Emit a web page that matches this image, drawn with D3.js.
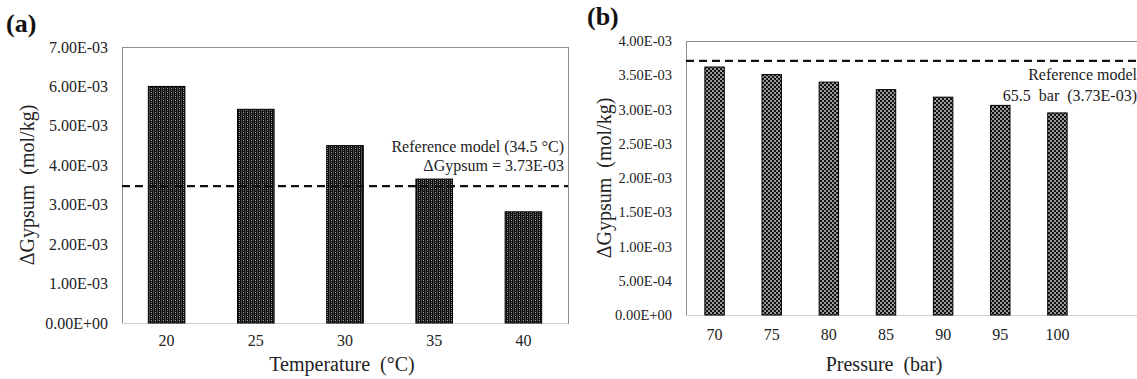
<!DOCTYPE html>
<html>
<head>
<meta charset="utf-8">
<script src="https://cdn.jsdelivr.net/npm/d3@7"></script>
<style>
  body { margin: 0; background: #fff; }
  svg { display: block; font-family: "Liberation Serif", "Times New Roman", serif; }
  text { white-space: pre; }
</style>
</head>
<body>
<svg id="chart" width="1137" height="379"></svg>
<script>
// panel (a) - temperature
const tempCats = ['20', '25', '30', '35', '40']
const tempVals = [6.00e-3, 5.42e-3, 4.50e-3, 3.65e-3, 2.82e-3]
const tempRef = 3.47e-3
const tempTicks = [0, 1e-3, 2e-3, 3e-3, 4e-3, 5e-3, 6e-3, 7e-3]

// panel (b) - pressure
const presCats = ['70', '75', '80', '85', '90', '95', '100']
const presVals = [3.62e-3, 3.51e-3, 3.40e-3, 3.29e-3, 3.18e-3, 3.06e-3, 2.95e-3]
const presRef = 3.71e-3
const presTicks = [0, 5e-4, 1e-3, 1.5e-3, 2e-3, 2.5e-3, 3e-3, 3.5e-3, 4e-3]

const svg = d3.select('#chart')

// excel style 0.00E+00
const sci = (d) => {
    const [m, e] = d.toExponential(2).split('e')
    const n = Math.abs(+e)
    return m + 'E' + (+e < 0 ? '-' : '+') + (n < 10 ? '0' + n : n)
}

// fill patterns
const defs = svg.append('defs')
const pa = defs.append('pattern').attr('id', 'patA').attr('patternUnits', 'userSpaceOnUse')
    .attr('width', 4).attr('height', 4)
pa.append('rect').attr('width', 4).attr('height', 4).attr('fill', '#0d0d0d')
pa.append('rect').attr('x', 1).attr('width', 1).attr('height', 4).attr('fill', '#4a4a4a')
pa.append('rect').attr('x', 3).attr('y', 0).attr('width', 1).attr('height', 1).attr('fill', '#b0b0b0')
pa.append('rect').attr('x', 3).attr('y', 2).attr('width', 1).attr('height', 1).attr('fill', '#808080')

const pb = defs.append('pattern').attr('id', 'patB').attr('patternUnits', 'userSpaceOnUse')
    .attr('width', 4).attr('height', 4)
pb.append('rect').attr('width', 4).attr('height', 4).attr('fill', '#9a9a9a')
pb.append('rect').attr('width', 2).attr('height', 2).attr('fill', '#111')
pb.append('rect').attr('x', 2).attr('y', 2).attr('width', 2).attr('height', 2).attr('fill', '#111')

const drawPanel = (cfg) => {
    const { cats, vals, ref, ticks, left, right, top, bottom, bandRight, pad, pattern } = cfg
    const g = svg.append('g')

    const x = d3.scaleBand().domain(cats).range([left, bandRight]).paddingInner(pad).paddingOuter(pad / 2)
    const y = d3.scaleLinear().domain([0, ticks[ticks.length - 1]]).range([bottom, top])

    // plot area frame
    g.append('rect')
        .attr('x', left + 0.5).attr('y', top + 0.5)
        .attr('width', right - left).attr('height', bottom - top)
        .attr('fill', 'none').attr('stroke', '#8c8c8c').attr('stroke-width', 1)

    // y axis labels
    const yAxis = d3.axisLeft(y).tickValues(ticks).tickFormat(sci).tickSize(0).tickPadding(left - cfg.labelRight)
    g.append('g').attr('transform', `translate(${left},0)`).call(yAxis)
        .call(s => s.select('.domain').remove())
        .selectAll('text').attr('font-size', cfg.tickFont).attr('fill', '#222').attr('font-family', 'Liberation Serif')

    // x axis
    const xAxis = d3.axisBottom(x).tickSize(0).tickPadding(cfg.xPad)
    g.append('g').attr('transform', `translate(0,${bottom})`).call(xAxis)
        .call(s => s.select('.domain').remove())
        .selectAll('text').attr('font-size', 16).attr('fill', '#222').attr('font-family', 'Liberation Serif')

    g.append('line')
        .attr('x1', left).attr('x2', right)
        .attr('y1', bottom + 0.5).attr('y2', bottom + 0.5)
        .attr('stroke', '#d0d0d0')

    // bars
    g.selectAll('rect.bar')
        .data(vals)
        .enter()
        .append('rect')
        .attr('class', 'bar')
        .attr('x', (d, i) => x(cats[i]))
        .attr('y', d => y(d))
        .attr('width', x.bandwidth())
        .attr('height', d => bottom - y(d))
        .attr('fill', `url(#${pattern})`)
        .attr('stroke', '#000')
        .attr('stroke-width', 1)

    // reference line
    g.append('line')
        .attr('x1', left).attr('x2', right)
        .attr('y1', y(ref)).attr('y2', y(ref))
        .attr('stroke', '#111').attr('stroke-width', 2.2)
        .attr('stroke-dasharray', '8,5')

    // annotation
    cfg.note.forEach((t, i) => {
        g.append('text').text(t)
            .attr('x', cfg.noteX).attr('y', cfg.noteY + i * cfg.noteGap)
            .attr('text-anchor', 'end').attr('font-size', 16).attr('fill', '#222')
    })

    // axis titles
    g.append('text').text(cfg.xTitle)
        .attr('x', cfg.xTitleX).attr('y', 371)
        .attr('text-anchor', 'middle').attr('font-size', 20).attr('fill', '#222')
    g.append('text').text(cfg.yTitle)
        .attr('transform', `translate(${cfg.yTitleX},${(top + bottom) / 2}) rotate(-90)`)
        .attr('dy', '0.35em')
        .attr('text-anchor', 'middle').attr('font-size', 20).attr('fill', '#222')

    g.append('text').text(cfg.label)
        .attr('x', cfg.labelX).attr('y', cfg.labelY)
        .attr('font-size', 26).attr('font-weight', 'bold').attr('fill', '#111')
}

drawPanel({
    cats: tempCats, vals: tempVals, ref: tempRef, ticks: tempTicks,
    left: 122, right: 568, top: 47, bottom: 323, bandRight: 568, pad: 0.59,
    labelRight: 108, xPad: 12, tickFont: 16, pattern: 'patA',
    note: ['Reference model (34.5 \u00B0C)', '\u0394Gypsum = 3.73E-03'],
    noteX: 564, noteY: 152, noteGap: 19,
    xTitle: 'Temperature  (\u00B0C)', xTitleX: 342,
    yTitle: '\u0394Gypsum  (mol/kg)', yTitleX: 27,
    label: '(a)', labelX: 6, labelY: 32
})

drawPanel({
    cats: presCats, vals: presVals, ref: presRef, ticks: presTicks,
    left: 686, right: 1150, top: 41, bottom: 315, bandRight: 1086, pad: 0.66,
    labelRight: 672, xPad: 14, tickFont: 14.5, pattern: 'patB',
    note: ['Reference model', '65.5  bar  (3.73E-03)'],
    noteX: 1137, noteY: 80, noteGap: 21,
    xTitle: 'Pressure  (bar)', xTitleX: 884,
    yTitle: '\u0394Gypsum  (mol/kg)', yTitleX: 604,
    label: '(b)', labelX: 587, labelY: 25
})
</script>
</body>
</html>
